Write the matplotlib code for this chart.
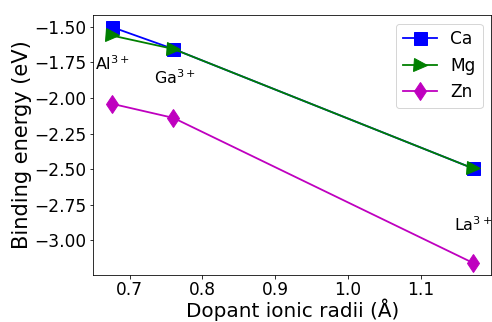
import matplotlib
matplotlib.use("Agg")
import matplotlib.pyplot as plt

radii = [0.675, 0.76, 1.172]
ca = [-1.50, -1.655, -2.495]
mg = [-1.56, -1.655, -2.495]
zn = [-2.04, -2.14, -3.16]
ion_labels = ["Al$^{3+}$", "Ga$^{3+}$", "La$^{3+}$"]
label_pos = [(0.652, -1.76), (0.733, -1.86), (1.146, -2.89)]

DPI = 72
fig, ax = plt.subplots(figsize=(492 / DPI, 322 / DPI), dpi=DPI)
ax.plot(radii, ca, color="blue", marker="s", markersize=13, lw=1.8, label="Ca")
ax.plot(radii, mg, color="green", marker=">", markersize=13, lw=1.8, label="Mg")
ax.plot(radii, zn, color="m", marker="d", markersize=13, lw=1.8, label="Zn")
for t, (x, y) in zip(ion_labels, label_pos):
    ax.text(x, y, t, fontsize=16, va="center", ha="left")
ax.set_xlabel("Dopant ionic radii (Å)", fontsize=20, labelpad=-0.5)
ax.set_ylabel("Binding energy (eV)", fontsize=21, labelpad=2)
ax.tick_params(labelsize=17)
ax.tick_params(axis="x", pad=2.5)
ax.set_xticks([0.7, 0.8, 0.9, 1.0, 1.1])
ax.set_yticks([-1.5, -1.75, -2.0, -2.25, -2.5, -2.75, -3.0])
ax.legend(loc="upper right", fontsize=17)
fig.subplots_adjust(left=0.19, right=0.998, top=0.953, bottom=0.147)
fig.savefig("out.png", dpi=DPI)
